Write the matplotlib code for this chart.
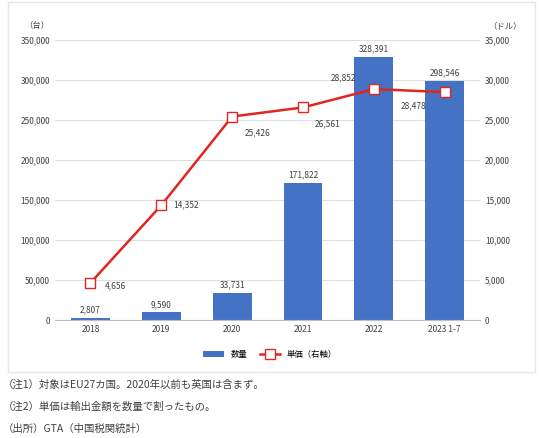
import matplotlib.pyplot as plt
from matplotlib.patches import Rectangle

plt.rcParams['font.family'] = ['Noto Sans CJK JP', 'DejaVu Sans']

years = ["2018", "2019", "2020", "2021", "2022", "2023 1-7"]
volume = [2807, 9590, 33731, 171822, 328391, 298546]
unit_price = [4656, 14352, 25426, 26561, 28852, 28478]
# label offsets (points) for the unit price labels
price_offsets = [(18, -2), (18, 0), (18, -12), (18, -12), (-22, 8), (-22, -10)]

fig = plt.figure(figsize=(5.4, 4.38), dpi=100)
fig.patches.append(Rectangle((0.015, 0.15), 0.975, 0.845, transform=fig.transFigure,
                             fill=False, edgecolor="#e6e6e6", lw=1))
ax = fig.add_axes([0.102, 0.269, 0.787, 0.64])
x = range(len(years))
ax.bar(x, volume, width=0.55, color="#4472C4", label="数量", zorder=2)
for i, v in enumerate(volume):
    ax.annotate(f"{v:,}", (i, v), xytext=(0, 4), textcoords="offset points",
                ha="center", fontsize=6, color="#404040")
ax.set_ylim(0, 350000)
ax.set_yticks(range(0, 350001, 50000))
ax.set_yticklabels([f"{v:,}" for v in range(0, 350001, 50000)])
ax.set_xticks(list(x))
ax.set_xticklabels(years)
ax.set_xlim(-0.5, len(years) - 0.5)
ax.grid(axis="y", color="#d9d9d9", lw=0.6, zorder=0)
ax.tick_params(length=0, labelsize=6, colors="#404040")
for s in ["top", "left", "right"]:
    ax.spines[s].set_visible(False)
ax.spines["bottom"].set_color("#bfbfbf")

ax2 = ax.twinx()
ax2.plot(x, unit_price, color="#E0261E", lw=1.8, marker="s", markersize=7,
         markerfacecolor="white", markeredgecolor="#E0261E", label="単価（右軸）", zorder=3)
for i, v in enumerate(unit_price):
    ax2.annotate(f"{v:,}", (i, v), xytext=price_offsets[i], textcoords="offset points",
                 ha="center", va="center", fontsize=6, color="#404040")
ax2.set_ylim(0, 35000)
ax2.set_yticks(range(0, 35001, 5000))
ax2.set_yticklabels([f"{v:,}" for v in range(0, 35001, 5000)])
ax2.tick_params(length=0, labelsize=6, colors="#404040")
for s in ["top", "left", "right", "bottom"]:
    ax2.spines[s].set_visible(False)

fig.text(0.045, 0.935, "（台）", fontsize=6, color="#404040")
fig.text(0.905, 0.935, "（ドル）", fontsize=6, color="#404040")

h1, l1 = ax.get_legend_handles_labels()
h2, l2 = ax2.get_legend_handles_labels()
fig.legend(h1 + h2, l1 + l2, loc="center", bbox_to_anchor=(0.5, 0.19), ncol=2,
           frameon=False, fontsize=6, handlelength=2.5, columnspacing=1.5)

notes = ["（注1）対象はEU27カ国。2020年以前も英国は含まず。",
         "（注2）単価は輸出金額を数量で割ったもの。",
         "（出所）GTA（中国税関統計）"]
for i, t in enumerate(notes):
    fig.text(0.005, 0.115 - i * 0.05, t, fontsize=7.5, color="#404040")

fig.savefig("out.png", dpi=100)
